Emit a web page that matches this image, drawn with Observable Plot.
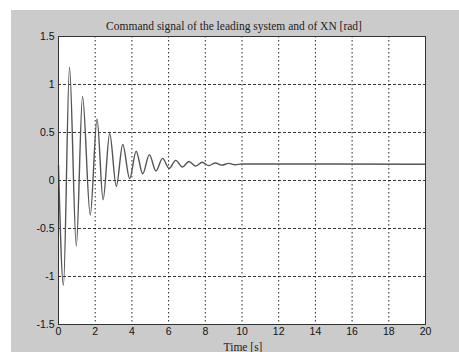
<!DOCTYPE html>
<html>
<head>
<meta charset="utf-8">
<script src="https://cdn.jsdelivr.net/npm/d3@7"></script>
<script src="https://cdn.jsdelivr.net/npm/@observablehq/plot@0.6"></script>
<style>
  html, body { margin: 0; padding: 0; background: #fff; }
  #wrap { position: relative; width: 459px; height: 352px; background: #fff; overflow: hidden; }
  #bg { position: absolute; left: 11px; top: 10px; width: 448px; height: 342px; background: #cbcbcb; }
  #chart { position: absolute; left: 0; top: 0; }
</style>
</head>
<body>
<div id="wrap"><div id="bg"></div><div id="chart"></div></div>
<script>
// Extremes of the signal
const timeS = [0, 0.27, 0.60, 0.97, 1.31, 1.73, 2.10, 2.43, 2.79, 3.15, 3.50, 3.88, 4.23, 4.59,
               4.95, 5.31, 5.67, 6.03, 6.39, 6.75, 7.11, 7.47, 7.83, 8.19, 8.55, 8.91, 9.27, 9.63, 10.0, 20];
const signalRad = [0.16, -1.09, 1.18, -0.68, 0.875, -0.36, 0.64, -0.20, 0.49, -0.06, 0.375, 0.02, 0.305, 0.07,
                   0.27, 0.10, 0.23, 0.125, 0.21, 0.14, 0.198, 0.15, 0.19, 0.155, 0.183, 0.16, 0.178, 0.164, 0.172, 0.17];
const xTicks = [0, 2, 4, 6, 8, 10, 12, 14, 16, 18, 20];
const yTicks = [-1.5, -1, -0.5, 0, 0.5, 1, 1.5];
const xGrid = [2, 4, 6, 8, 10, 12, 14, 16, 18];
const yGrid = [-1, -0.5, 0, 0.5, 1];
const titleText = "Command signal of the leading system and of XN [rad]";
const xLabelText = "Time [s]";

const data = timeS.map((t, i) => ({t, v: signalRad[i]}));

const chart = Plot.plot({
  width: 459,
  height: 352,
  marginLeft: 58,
  marginRight: 34,
  marginTop: 36,
  marginBottom: 28,
  style: {background: "transparent", fontFamily: "'Liberation Sans', Arial, sans-serif", fontSize: "10.5px", color: "#111"},
  x: {domain: [0, 20]},
  y: {domain: [-1.5, 1.5]},
  marks: [
    Plot.frame({fill: "#fff", stroke: null}),
    Plot.gridX(xGrid, {stroke: "#000", strokeOpacity: 0.85, strokeDasharray: "1.5,2.5"}),
    Plot.gridY(yGrid, {stroke: "#000", strokeOpacity: 0.8, strokeDasharray: "3,2"}),
    Plot.line(data, {x: "t", y: "v", curve: "monotone-x", stroke: "#555", strokeWidth: 1.4}),
    Plot.frame({stroke: "#333", strokeWidth: 1}),
    Plot.axisX({ticks: xTicks, tickSize: 0, tickPadding: 3, tickFormat: d => String(d), label: null}),
    Plot.axisY({ticks: yTicks, tickSize: 0, tickPadding: 4, tickFormat: d => String(d), label: null}),
    Plot.text([titleText], {frameAnchor: "top", dy: -10, lineAnchor: "middle", dx: -8,
      fontFamily: "'Liberation Serif', 'Times New Roman', serif", fontSize: 11.5, fill: "#222"}),
    Plot.text([xLabelText], {frameAnchor: "bottom", dy: 22.5, lineAnchor: "middle", dx: 1,
      fontFamily: "'Liberation Serif', 'Times New Roman', serif", fontSize: 11.5, fill: "#222"})
  ]
});
document.getElementById("chart").appendChild(chart);
</script>
</body>
</html>
